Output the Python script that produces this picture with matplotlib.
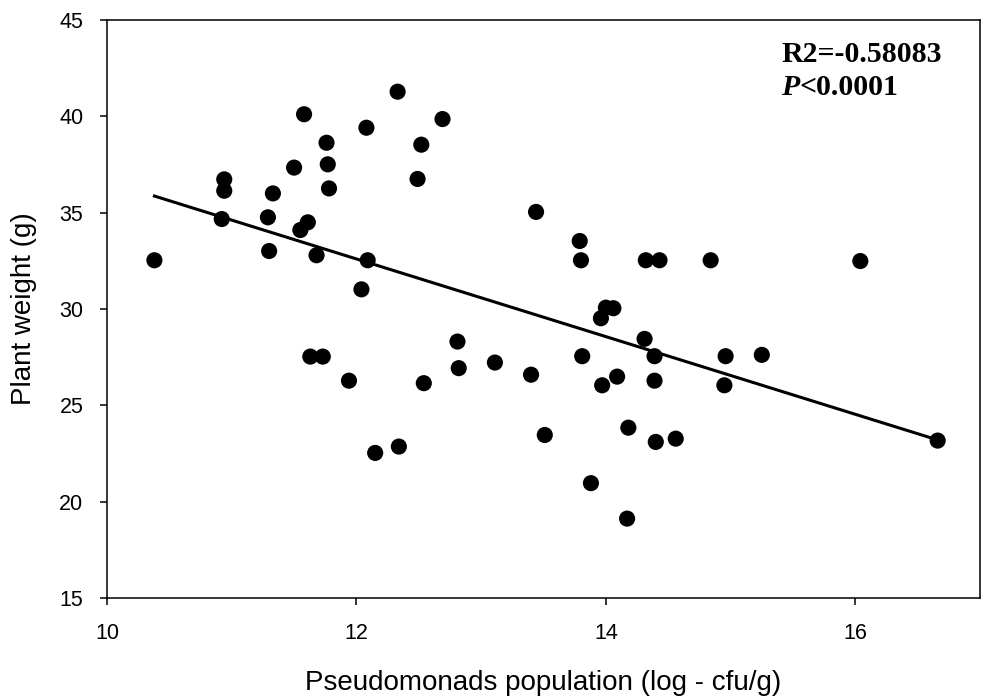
import numpy as np
import matplotlib
matplotlib.use('Agg')
import matplotlib.pyplot as plt

# Dados: população de pseudomonas (log cfu/g) x peso da planta (g)
populacao = [10.38, 10.92, 10.94, 10.94, 11.29, 11.30, 11.33, 11.50, 11.55, 11.58,
             11.61, 11.63, 11.68, 11.73, 11.76, 11.77, 11.78, 11.94, 12.04, 12.08,
             12.09, 12.15, 12.33, 12.34, 12.49, 12.52, 12.54, 12.69, 12.81, 12.82,
             13.11, 13.40, 13.44, 13.51, 13.79, 13.80, 13.81, 13.88, 13.96, 13.97,
             14.00, 14.06, 14.09, 14.17, 14.18, 14.31, 14.32, 14.39, 14.39, 14.40,
             14.43, 14.56, 14.84, 14.95, 14.96, 15.25, 16.04, 16.66]
peso = [32.53, 34.67, 36.73, 36.14, 34.76, 33.01, 36.00, 37.34, 34.10, 40.11,
        34.50, 27.53, 32.79, 27.53, 38.63, 37.51, 36.26, 26.28, 31.02, 39.41,
        32.53, 22.53, 41.28, 22.86, 36.75, 38.53, 26.15, 39.86, 28.31, 26.93,
        27.22, 26.59, 35.04, 23.46, 33.53, 32.53, 27.55, 20.96, 29.52, 26.04,
        30.07, 30.04, 26.49, 19.12, 23.84, 28.45, 32.53, 27.55, 26.28, 23.10,
        32.53, 23.27, 32.53, 26.04, 27.55, 27.62, 32.49, 23.17]

# Reta de regressão (coeficientes estimados a partir da figura)
inclinacao = -2.016
intercepto = 56.79

plt.rcParams['font.family'] = ['Liberation Sans', 'DejaVu Sans']

fig = plt.figure(figsize=(10.02, 6.98), dpi=100)
ax = fig.add_axes([0.1068, 0.1433, 0.8713, 0.828])

x = np.array(populacao)
xr = np.array([x.min(), x.max()])
ax.plot(xr, intercepto + inclinacao * xr, color='black', linewidth=2.2, zorder=2)
ax.scatter(populacao, peso, s=135, color='black', edgecolors='none', zorder=3)

ax.set_xlim(10, 17)
ax.set_ylim(15, 45)
ax.set_xticks([10, 12, 14, 16])
ax.set_yticks([15, 20, 25, 30, 35, 40, 45])
ax.tick_params(direction='out', length=5, width=1.1, labelsize=15.5)
ax.tick_params(axis='x', pad=13)
ax.tick_params(axis='y', pad=12)
for s in ax.spines.values():
    s.set_linewidth(1.1)

ax.set_xlabel('Pseudomonads population (log - cfu/g)', fontsize=20)
ax.set_ylabel('Plant weight (g)', fontsize=20)
ax.xaxis.set_label_coords(0.5, -0.125)
ax.yaxis.set_label_coords(-0.080, 0.5)

fonte = dict(family='Liberation Serif', fontweight='bold', fontsize=21.5)
ax.text(0.772, 0.928, 'R2=-0.58083', transform=ax.transAxes, va='baseline', **fonte)
tp = ax.text(0.772, 0.870, 'P', transform=ax.transAxes, va='baseline',
             fontstyle='italic', **fonte)
ax.annotate('<0.0001', xy=(1, 0), xycoords=tp, va='bottom', **fonte)

plt.savefig('out.png', dpi=100)
